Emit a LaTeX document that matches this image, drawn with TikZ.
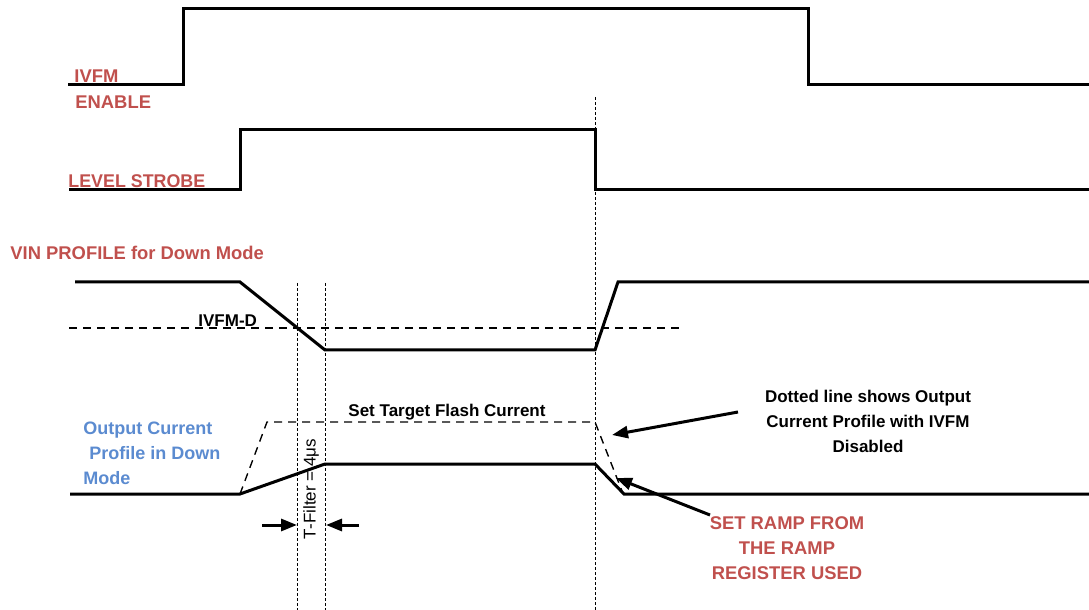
\documentclass[tikz,border=0pt]{standalone}
\usepackage{fontspec}
\setmainfont{Liberation Sans}
\usetikzlibrary{arrows.meta}
\definecolor{lblred}{RGB}{192,80,77}
\definecolor{lblblue}{RGB}{91,139,208}
\begin{document}
\begin{tikzpicture}[x=0.5pt,y=-0.5pt,
  sig/.style={line width=1.5pt,line join=miter},
  ref/.style={line width=0.7pt,dash pattern=on 4pt off 3pt},
  guide/.style={line width=0.5pt,dash pattern=on 1.5pt off 1pt},
  callout/.style={line width=1.5pt,-{Triangle[length=8pt,width=6pt]}},
  redlbl/.style={text=lblred,font=\bfseries\fontsize{9.2}{12.5}\selectfont,inner sep=0pt},
  bluelbl/.style={text=lblblue,font=\bfseries\fontsize{9}{12.5}\selectfont,inner sep=0pt},
  blklbl/.style={text=black,font=\bfseries\fontsize{8.5}{12.5}\selectfont,inner sep=0pt}]
\useasboundingbox (0,0) rectangle (1089,610);
% guide lines
\draw[guide] (595,97) -- (595,610);
\draw[guide] (297,283) -- (297,610);
\draw[guide] (325,283) -- (325,610);
% IVFM ENABLE
\draw[sig] (68,85) -- (183,85) -- (183,9) -- (808,9) -- (808,85) -- (1089,85);
\node[redlbl,anchor=base west] (lenable1) at (74,83) {IVFM};
\node[redlbl,anchor=base west] (lenable2) at (75,109) {ENABLE};
% LEVEL STROBE
\draw[sig] (69,190) -- (240,190) -- (240,130) -- (595,130) -- (595,190) -- (1089,190);
\node[redlbl,anchor=base west,xscale=0.97] (lstrobe) at (68,188) {LEVEL STROBE};
% VIN profile
\node[redlbl,anchor=base west] (lvin) at (10,260) {VIN PROFILE for Down Mode};
\draw[ref] (69,328) -- (682,328);
\node[blklbl,anchor=base west] (livfmd) at (198,327) {IVFM-D};
\draw[sig] (75,282) -- (240,282) -- (325,350) -- (595,350) -- (618,282) -- (1089,282);
% Output current
\draw[ref] (240,494) -- (267,422) -- (595,422) -- (622,491);
\draw[sig] (70,494) -- (240,494) -- (325,464) -- (595,464) -- (624,494) -- (1089,494);
\node[blklbl,anchor=base] (lset) at (447,416) {Set Target Flash Current};
\node[bluelbl,anchor=base west] (lout1) at (83,434) {Output Current};
\node[bluelbl,anchor=base west] (lout2) at (89,459) {Profile in Down};
\node[bluelbl,anchor=base west] (lout3) at (83,484) {Mode};
% T-filter
\coordinate (tfl) at (297,525);
\coordinate (tfr) at (326,525);
\draw[callout] (262,525) -- (tfl);
\draw[callout] (359,525) -- (tfr);
\node[text=black,font=\fontsize{8.5}{10}\selectfont,rotate=90,inner sep=0pt] (ltf) at (311,489) {T-Filter = 4μs};
% callouts
\node[blklbl,align=center] (ldot) at (868,421) {Dotted line shows Output\\Current Profile with IVFM\\Disabled};
\node[redlbl,align=center] (lramp) at (787,548) {SET RAMP FROM\\THE RAMP\\REGISTER USED};
\coordinate (dottip) at (612,435);
\coordinate (ramptip) at (616,478);
\draw[callout] (738,412) -- (dottip);
\draw[callout] (710,515) -- (ramptip);
\end{tikzpicture}
\end{document}
